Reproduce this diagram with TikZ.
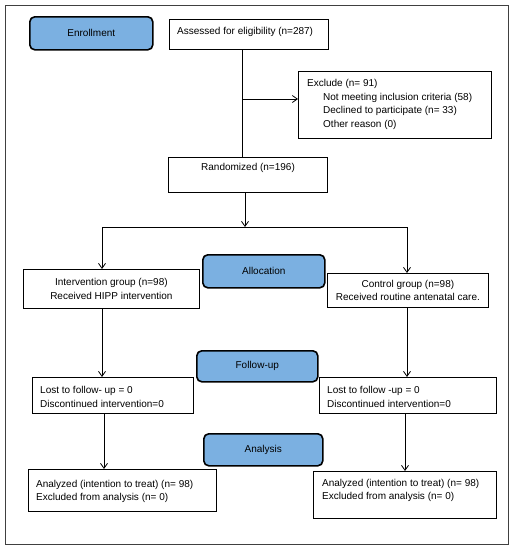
\documentclass[tikz,border=0pt]{standalone}
\usepackage{fontspec}
\setmainfont{Liberation Sans}
\usetikzlibrary{arrows.meta}
\definecolor{stageblue}{RGB}{123,176,225}
\begin{document}
\begin{tikzpicture}[x=1pt,y=-1pt,
  box/.style={draw=black, line width=0.8pt, fill=white, inner sep=0pt, anchor=north west, font=\fontsize{10}{13.6}\selectfont},
  stage/.style={draw=black, line width=1.6pt, fill=stageblue, rounded corners=5pt, inner sep=0pt, anchor=north west, font=\fontsize{10}{12}\selectfont},
  txt/.style={inner sep=0pt, anchor=west, align=left, font=\fontsize{10}{13.8}\selectfont},
  conn/.style={line width=0.8pt},
  arr/.style={conn, -{Straight Barb[length=5pt,width=7pt]}}]
\useasboundingbox (0,0) rectangle (513,550);
\draw[line width=1pt, draw=black!75] (5,5) rectangle (508,544);

% stage labels
\node[stage, minimum width=123pt, minimum height=33pt] (enroll) at (29,16) {Enrollment};
\node[stage, minimum width=122pt, minimum height=33pt] (alloc) at (202,254) {Allocation};
\node[stage, minimum width=121pt, minimum height=31pt] (follow) at (196,350) {Follow-up};
\node[stage, minimum width=119pt, minimum height=32pt] (analysis) at (203,433) {Analysis};

% boxes
\node[box, minimum width=159pt, minimum height=30pt] (assess) at (169,19) {};
\node[box, minimum width=193pt, minimum height=67pt] (exclude) at (298,71) {};
\node[box, minimum width=159pt, minimum height=35pt] (random) at (168,157) {};
\node[box, minimum width=176pt, minimum height=39pt, align=center] (interv) at (23,269) {Intervention group (n=98)\\Received HIPP intervention};
\node[box, minimum width=161pt, minimum height=34pt, align=center] (control) at (327,273) {Control group (n=98)\\Received routine antenatal care.};
\node[box, minimum width=161pt, minimum height=36pt] (lostL) at (32,377) {};
\node[box, minimum width=177pt, minimum height=36pt] (lostR) at (319,377) {};
\node[box, minimum width=188pt, minimum height=42pt] (anaL) at (28,469) {};
\node[box, minimum width=183pt, minimum height=47pt] (anaR) at (313,471) {};

% texts
\node[txt] (assesst) at (177,32) {Assessed for eligibility (n=287)};
\node[txt] (excludet) at (307,104.5) {Exclude (n= 91)\\\hspace*{16pt}Not meeting inclusion criteria (58)\\\hspace*{16pt}Declined to participate (n= 33)\\\hspace*{16pt}Other reason (0)};
\node[txt] (randomt) at (201,168) {Randomized (n=196)};
\node[txt] (lostLt) at (40,397) {Lost to follow- up = 0\\Discontinued intervention=0};
\node[txt] (lostRt) at (327,397) {Lost to follow -up = 0\\Discontinued intervention=0};
\node[txt] (anaLt) at (36,491.5) {Analyzed (intention to treat) (n= 98)\\Excluded from analysis (n= 0)};
\node[txt] (anaRt) at (322,490.5) {Analyzed (intention to treat) (n= 98)\\Excluded from analysis (n= 0)};

% connector columns
\coordinate (c1) at (242,0);
\coordinate (br) at (242,99);
\coordinate (split) at (245,227);
\coordinate (cL) at (102,0);
\coordinate (cR) at (407,0);
\coordinate (cL2) at (104,0);
\coordinate (cR2) at (405,0);

\draw[conn] (c1 |- assess.south) -- (c1 |- random.north);
\draw[arr] (br) -- (br -| exclude.west);
\draw[arr] (split |- random.south) -- (split);
\draw[conn] (cL |- split) -- (cR |- split);
\draw[arr] (cL |- split) -- (cL |- interv.north);
\draw[arr] (cR |- split) -- (cR |- control.north);
\draw[arr] (cL |- interv.south) -- (cL |- lostL.north);
\draw[arr] (cR |- control.south) -- (cR |- lostR.north);
\draw[arr] (cL2 |- lostL.south) -- (cL2 |- anaL.north);
\draw[arr] (cR2 |- lostR.south) -- (cR2 |- anaR.north);
\end{tikzpicture}
\end{document}
